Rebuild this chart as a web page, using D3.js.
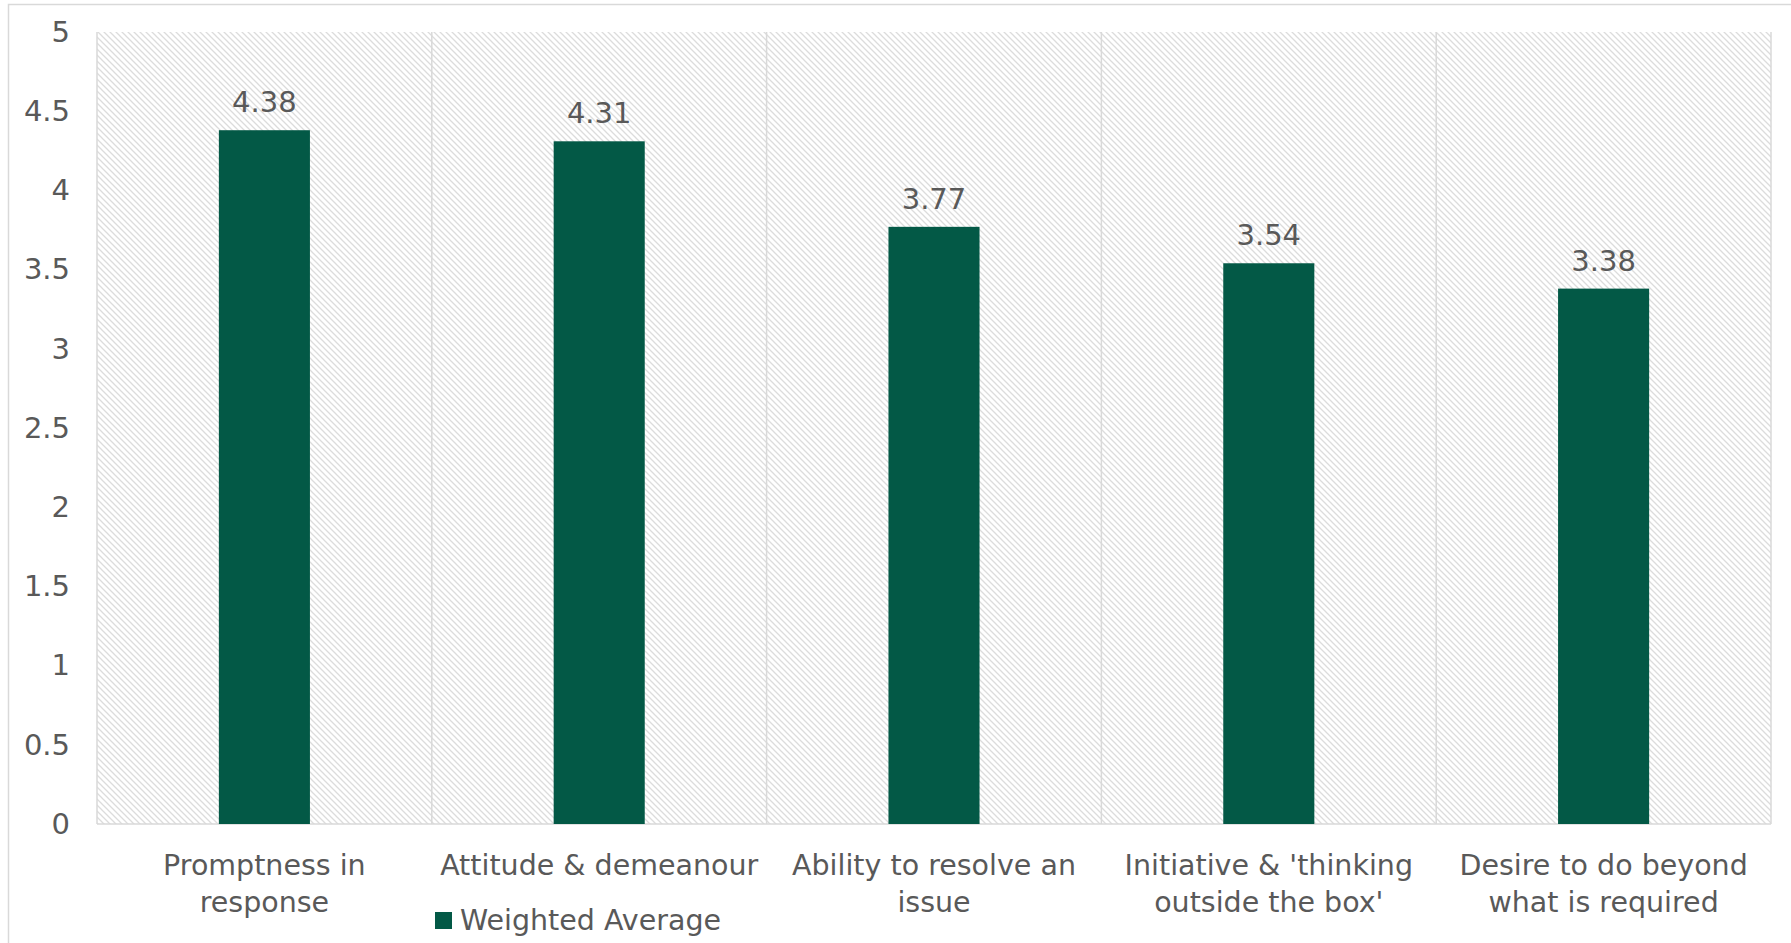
<!DOCTYPE html>
<html>
<head>
<meta charset="utf-8">
<script src="https://cdn.jsdelivr.net/npm/d3@7"></script>
<style>
  html, body { margin: 0; padding: 0; background: #fff; }
  svg { display: block; }
  text { font-family: "DejaVu Sans", sans-serif; fill: #595959; }
</style>
</head>
<body>
<svg id="chart" width="1791" height="943"></svg>
<script>
const categories = [
  ["Promptness in", "response"],
  ["Attitude & demeanour"],
  ["Ability to resolve an", "issue"],
  ["Initiative & 'thinking", "outside the box'"],
  ["Desire to do beyond", "what is required"]
];
const values = [4.38, 4.31, 3.77, 3.54, 3.38];
const yTicks = [0, 0.5, 1, 1.5, 2, 2.5, 3, 3.5, 4, 4.5, 5];
const seriesName = "Weighted Average";

const W = 1791, H = 943;
const margin = { left: 97, top: 32, right: 20, bottom: 119 };
const svg = d3.select("#chart");

// outer chart border
svg.append("rect").attr("x", 8.5).attr("y", 4.5).attr("width", W + 20).attr("height", H + 20)
  .attr("fill", "#fff").attr("stroke", "#d9d9d9").attr("stroke-width", 1.5);

const defs = svg.append("defs");
const pat = defs.append("pattern").attr("id", "hatch").attr("patternUnits", "userSpaceOnUse")
  .attr("width", 6).attr("height", 6);
pat.append("rect").attr("width", 6).attr("height", 6).attr("fill", "#fff");
pat.append("path").attr("d", "M-1,-1 L7,7 M-1,5 L1,7 M5,-1 L7,1")
  .attr("stroke", "#dcdcdc").attr("stroke-width", 1.3);

const x = d3.scaleBand().domain(d3.range(categories.length))
  .range([margin.left, W - margin.right]).paddingInner(0).paddingOuter(0);
const y = d3.scaleLinear().domain([0, 5]).range([H - margin.bottom, margin.top]);

// plot area
svg.append("rect").attr("x", x.range()[0]).attr("y", y(5))
  .attr("width", x.range()[1] - x.range()[0]).attr("height", y(0) - y(5))
  .attr("fill", "url(#hatch)");

// vertical gridlines at category boundaries
const bounds = d3.range(categories.length + 1).map(i => i < categories.length ? x(i) : x.range()[1]);
svg.append("g").selectAll("line").data(bounds).join("line")
  .attr("x1", d => d).attr("x2", d => d).attr("y1", y(5)).attr("y2", y(0))
  .attr("stroke", "#d9d9d9").attr("stroke-width", 1.5);

// baseline
svg.append("line").attr("x1", x.range()[0]).attr("x2", x.range()[1])
  .attr("y1", y(0)).attr("y2", y(0)).attr("stroke", "#d9d9d9").attr("stroke-width", 1.5);

// y axis
const yAxis = d3.axisLeft(y).tickValues(yTicks).tickSize(0).tickPadding(27)
  .tickFormat(d => String(d));
const gy = svg.append("g").attr("transform", `translate(${margin.left},0)`).call(yAxis);
gy.select(".domain").remove();
gy.selectAll("text").attr("font-size", 29).style("fill", "#595959")
  .attr("font-family", "DejaVu Sans, sans-serif");

// bars
const barW = x.bandwidth() * 0.272;
svg.append("g").selectAll("rect").data(values).join("rect")
  .attr("x", (d, i) => x(i) + x.bandwidth() / 2 - barW / 2)
  .attr("y", d => y(d)).attr("width", barW).attr("height", d => y(0) - y(d))
  .attr("fill", "#035946");

// value labels
svg.append("g").selectAll("text").data(values).join("text")
  .attr("x", (d, i) => x(i) + x.bandwidth() / 2)
  .attr("y", d => y(d) - 18).attr("text-anchor", "middle").attr("font-size", 29)
  .text(d => d.toFixed(2));

// x category labels
const gx = svg.append("g");
categories.forEach((lines, i) => {
  const t = gx.append("text").attr("x", x(i) + x.bandwidth() / 2).attr("y", y(0) + 51)
    .attr("text-anchor", "middle").attr("font-size", 28.5);
  lines.forEach((ln, j) => {
    t.append("tspan").attr("x", x(i) + x.bandwidth() / 2).attr("dy", j === 0 ? 0 : 37).text(ln);
  });
});

// legend
const lg = svg.append("g").attr("transform", "translate(435,912)");
lg.append("rect").attr("width", 17).attr("height", 17).attr("fill", "#035946");
lg.append("text").attr("x", 25).attr("y", 18).attr("font-size", 28.5).text(seriesName);
</script>
</body>
</html>
